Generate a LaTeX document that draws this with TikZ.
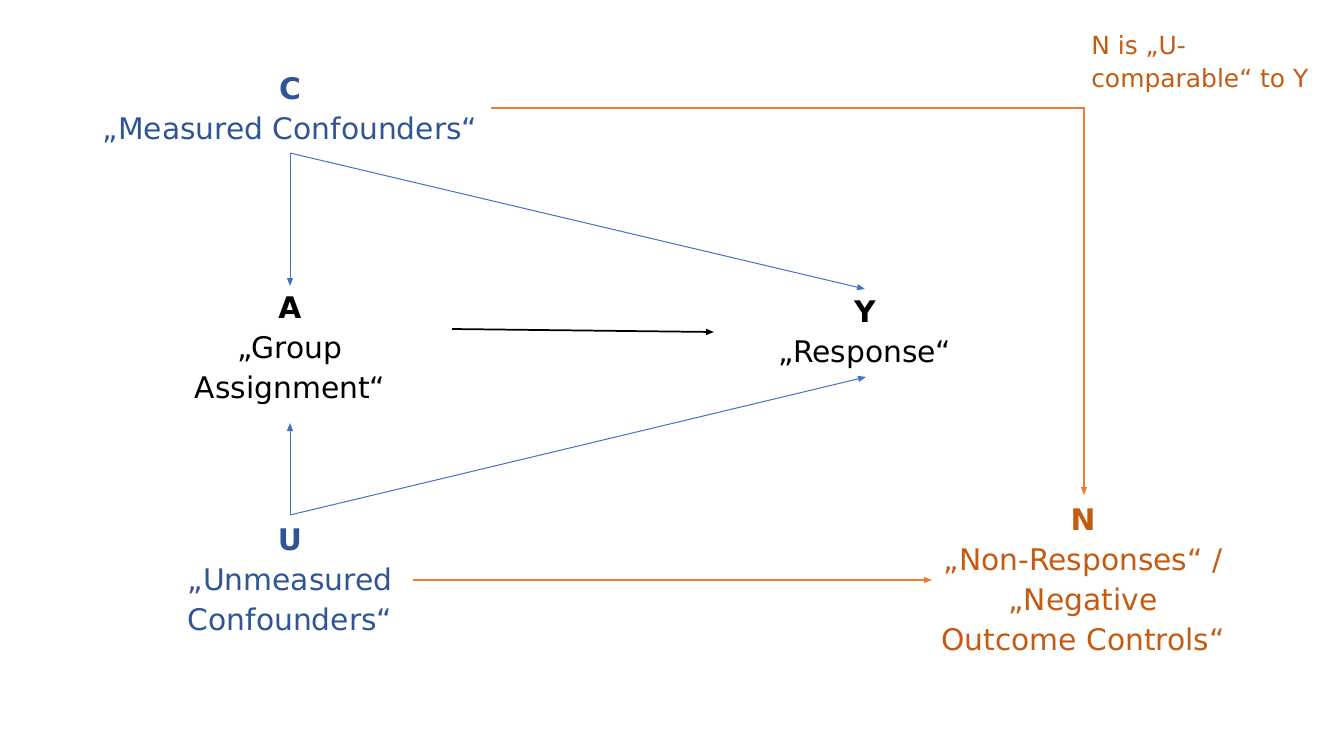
\documentclass[tikz,border=0pt]{standalone}
\usepackage{fontspec}
\setmainfont{DejaVu Sans}
\usetikzlibrary{arrows.meta}
\definecolor{bluetxt}{HTML}{2F5597}
\definecolor{blueln}{HTML}{4472C4}
\definecolor{orgtxt}{HTML}{C55A11}
\definecolor{orgln}{HTML}{ED7D31}
\tikzset{
  lbl/.style={align=center, inner sep=0pt, font=\fontsize{22.3}{29.9}\selectfont},
  note/.style={align=left, inner sep=0pt, font=\fontsize{18.7}{24.75}\selectfont, text=orgtxt},
  tip/.style={-{Triangle[length=6pt,width=4.5pt]}},
  bl/.style={tip, draw=blueln, line width=0.75pt},
  bk/.style={tip, draw=black, line width=1.3pt},
  og/.style={tip, draw=orgln, line width=0.8pt},
}
\begin{document}
\begin{tikzpicture}[x=0.75pt,y=-0.75pt]
\useasboundingbox (0,0) rectangle (1317,739);
\fill[white] (0,0) rectangle (1317,739);
% nodes
\node[lbl, text=bluetxt] (C) at (290,110) {\textbf{C}\\„Measured Confounders“};
\node[lbl, text=black] (A) at (290,351) {\textbf{A}\\„Group\\Assignment“};
\node[lbl, text=black] (Y) at (865,335) {\textbf{Y}\\„Response“};
\node[lbl, text=bluetxt] (U) at (290,580) {\textbf{U}\\„Unmeasured\\Confounders“};
\node[lbl, text=orgtxt] (N) at (1083,580) {\textbf{N}\\„Non-Responses“ /\\„Negative\\Outcome Controls“};
\node[note, anchor=west] (note) at (1091,64) {N is „U-\\comparable“ to Y};
% connector end points
\coordinate (Cs) at (290,153);
\coordinate (Ain) at (290,286);
\coordinate (Yin) at (865,289);
\coordinate (Aout) at (452,329);
\coordinate (Yleft) at (714,332);
\coordinate (Us) at (290,515);
\coordinate (Abot) at (290,423);
\coordinate (Ybot) at (866,377);
\coordinate (Cr) at (491,108);
\coordinate (bend) at (1084,108);
\coordinate (Ntop) at (1084,495);
\coordinate (Ur) at (413,580);
\coordinate (Nl) at (932,580);
% connectors
\draw[bl] (Cs) -- (Ain);
\draw[bl] (Cs) -- (Yin);
\draw[bk] (Aout) -- (Yleft);
\draw[bl] (Us) -- (Abot);
\draw[bl] (Us) -- (Ybot);
\draw[og] (Cr) -- (bend) -- (Ntop);
\draw[og] (Ur) -- (Nl);
\end{tikzpicture}
\end{document}
